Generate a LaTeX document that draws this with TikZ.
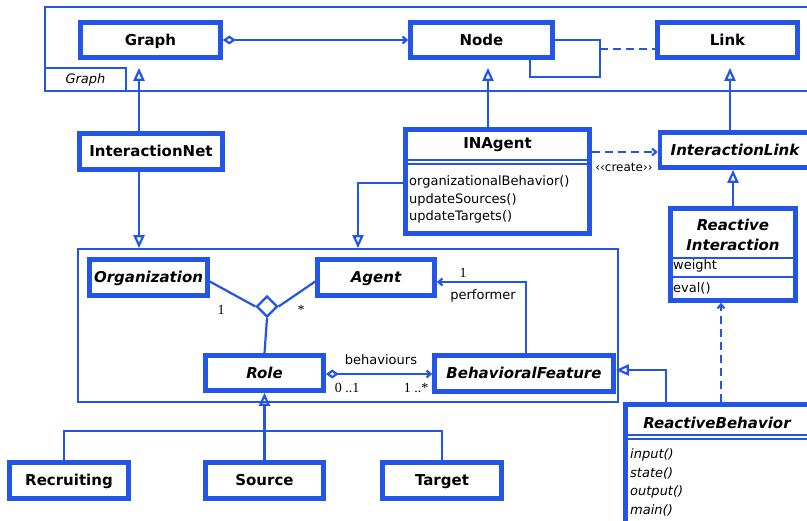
\documentclass[tikz,border=0pt]{standalone}
\usepackage{fontspec}
\setmainfont{DejaVu Sans}
\newfontfamily\numfont{Liberation Serif}
\usetikzlibrary{arrows.meta,shapes.geometric}
\definecolor{umlblue}{RGB}{35,85,230}
\newcommand\clsfont{\bfseries\fontsize{15}{17}\selectfont}
\newcommand\absfont{\bfseries\itshape\fontsize{15}{17}\selectfont}
\newcommand\mthfont{\fontsize{13}{15}\selectfont}
\newcommand\multfont{\numfont\fontsize{14}{16}\selectfont}

\begin{document}
\begin{tikzpicture}[x=1pt,y=-1pt,
    cls/.style={draw=umlblue,line width=4.6pt,fill=white,inner sep=0pt,text height=11pt,text depth=0pt,font=\clsfont},
    abscls/.style={cls,font=\absfont},
    pkg/.style={draw=umlblue,line width=1.8pt,inner sep=0pt},
    conn/.style={draw=umlblue,line width=2.2pt},
    bar/.style={draw=umlblue,line width=1.8pt},
    inherit/.style={conn,-{Triangle[open,length=13pt,width=11pt]}},
    nav/.style={conn,-{Straight Barb[length=4pt,width=7pt]}},
    aggr/.style={conn,{Diamond[open,length=13pt,width=9pt]}-{Straight Barb[length=4pt,width=7pt]}},
    txt/.style={inner sep=0pt,font=\mthfont}]
    \fill[white] (0,0) rectangle (807,521);
    \useasboundingbox (0,0) rectangle (807,521);

    \node[pkg,minimum width=767pt,minimum height=84pt] at (428.5,49) (GraphPkg) {};
    \node[pkg,minimum width=81pt,minimum height=23pt,font=\itshape\mthfont] at (85.5,79.5) (GraphTab) {Graph};
    \node[pkg,minimum width=540pt,minimum height=153pt] at (348,325.5) (Roles) {};

    \node[cls,minimum width=140pt,minimum height=35pt] at (150.5,40) (Graph) {Graph};
    \node[cls,minimum width=142pt,minimum height=35pt] at (481.5,40) (Node) {Node};
    \node[cls,minimum width=140pt,minimum height=35pt] at (727.5,40) (Link) {Link};
    \node[cls,minimum width=143pt,minimum height=36pt] at (151,151.5) (InteractionNet) {InteractionNet};

    \node[cls,minimum width=184pt,minimum height=104pt] at (497.5,181.5) (INAgent) {};
    \node[inner sep=0pt,font=\clsfont] at (497.5,145) (INAgentName) {INAgent};
    \draw[bar] (INAgent.west |- 0,160) -- (INAgent.east |- 0,160);
    \draw[bar] (INAgent.west |- 0,164) -- (INAgent.east |- 0,164);
    \node[txt,anchor=west] at (409,182) (orgBehavior) {organizationalBehavior()};
    \node[txt,anchor=west] at (409,199.5) (updSources) {updateSources()};
    \node[txt,anchor=west] at (409,217) (updTargets) {updateTargets()};

    \node[abscls,minimum width=150pt,minimum height=35pt] at (735,150) (InteractionLink) {InteractionLink};

    \node[cls,minimum width=125pt,minimum height=92pt] at (733,254.5) (RInteraction) {};
    \node[inner sep=0pt,font=\absfont] at (733,225) (RIName1) {Reactive};
    \node[inner sep=0pt,font=\absfont] at (733,245) (RIName2) {Interaction};
    \draw[bar] (RInteraction.west |- 0,258) -- (RInteraction.east |- 0,258);
    \draw[bar] (RInteraction.west |- 0,277) -- (RInteraction.east |- 0,277);
    \node[txt,anchor=west] at (673,266) (weight) {weight};
    \node[txt,anchor=west] at (673,288) (eval) {eval()};

    \node[cls,minimum width=202pt,minimum height=133pt] at (726.5,471) (RBehavior) {};
    \node[inner sep=0pt,font=\absfont] at (717,423) (RBName) {ReactiveBehavior};
    \draw[bar] (RBehavior.west |- 0,435) -- (RBehavior.east |- 0,435);
    \draw[bar] (RBehavior.west |- 0,439) -- (RBehavior.east |- 0,439);
    \node[txt,anchor=west,font=\itshape\mthfont] at (630,455) (input) {input()};
    \node[txt,anchor=west,font=\itshape\mthfont] at (630,473) (state) {state()};
    \node[txt,anchor=west,font=\itshape\mthfont] at (630,492) (output) {output()};
    \node[txt,anchor=west,font=\itshape\mthfont] at (630,510) (main) {main()};

    \node[abscls,minimum width=118pt,minimum height=36pt] at (148.5,277.5) (Organization) {Organization};
    \node[abscls,minimum width=117pt,minimum height=36pt] at (376,277.5) (Agent) {Agent};
    \node[abscls,minimum width=118pt,minimum height=35pt] at (264.5,373) (Role) {Role};
    \node[abscls,minimum width=179pt,minimum height=36pt] at (524,373.5) (BFeature) {BehavioralFeature};
    \node[draw=umlblue,line width=2.2pt,fill=white,diamond,aspect=1,minimum size=21pt,inner sep=0pt] at (267,306.5) (assoc) {};

    \node[cls,minimum width=119pt,minimum height=36pt] at (69,480.5) (Recruiting) {Recruiting};
    \node[cls,minimum width=118pt,minimum height=36pt] at (264.5,480.5) (Source) {Source};
    \node[cls,minimum width=119pt,minimum height=36pt] at (442,480.5) (Target) {Target};

    \draw[aggr] (Graph.east) -- (Node.west);
    \draw[conn] (Node.east) -- (600,40) -- (600,77) -| ([xshift=48.5pt]Node.south);
    \coordinate (loopMid) at (600,49);
    \draw[conn,dashed,dash pattern=on 8pt off 5pt] (loopMid) -- (loopMid -| Link.west);

    \draw[inherit,shorten >=8pt] ([xshift=-12pt]InteractionNet.north) -- ([xshift=-12pt]InteractionNet.north |- Graph.south);
    \draw[inherit,shorten >=8pt] ([xshift=-9.5pt]INAgent.north) -- ([xshift=-9.5pt]INAgent.north |- Node.south);
    \draw[inherit,shorten >=8pt] ([xshift=-5pt]InteractionLink.north) -- ([xshift=-5pt]InteractionLink.north |- Link.south);
    \draw[inherit] (RInteraction.north) -- (RInteraction.north |- InteractionLink.south);
    \draw[conn,dashed,dash pattern=on 8pt off 5pt,-{Straight Barb[length=4pt,width=7pt]}] (INAgent.east |- 0,152) -- (InteractionLink.west |- 0,152);
    \node[inner sep=0pt,font=\fontsize{12}{14}\selectfont] at (624,167) (create) {‹‹create››};

    \draw[inherit] ([xshift=-12pt]InteractionNet.south) -- ([xshift=-12pt]InteractionNet.south |- Roles.north);
    \draw[inherit] ([yshift=-1.5pt]INAgent.west) -| ([xshift=-18pt]Agent.north |- Roles.north);

    \draw[conn] ([yshift=-4pt]Organization.east) -- (assoc.west);
    \draw[conn] ([yshift=-4pt]Agent.west) -- (assoc.east);
    \draw[conn] (assoc.south) -- (Role.north);
    \node[font=\multfont,inner sep=0pt] at (221,310) (orgMult) {1};
    \node[font=\multfont,inner sep=0pt] at (301,310) (agentMult) {*};

    \draw[aggr] ([yshift=-1pt]Role.east) -- ([yshift=-1pt]Role.east -| BFeature.west);
    \node[txt] at (381,360) (behaviours) {behaviours};
    \node[font=\multfont,inner sep=0pt] at (347,388) (roleMult) {0 ..1};
    \node[font=\multfont,inner sep=0pt] at (416,388) (bfMult) {1 ..*};

    \draw[nav] ([xshift=2pt]BFeature.north) |- ([yshift=-4.5pt]Agent.east);
    \node[font=\multfont,inner sep=0pt] at (463,273) (perfMult) {1};
    \node[txt] at (483,296) (performer) {performer};

    \draw[conn,dashed,dash pattern=on 8pt off 5pt,-{Straight Barb[length=4pt,width=7pt]}] ([xshift=-5.5pt]RBehavior.north) -- ([xshift=-5.5pt]RBehavior.north |- RInteraction.south);
    \draw[inherit] ([xshift=-60.5pt]RBehavior.north) |- ([yshift=3.5pt]BFeature.east);

    \coordinate (fork) at (Source.north |- 0,431);
    \draw[conn] ([xshift=-5pt]Recruiting.north) |- (fork) -| (Target.north);
    \draw[conn] (Source.north) -- (fork);
    \draw[inherit] (fork) -- (Role.south);
\end{tikzpicture}
\end{document}
